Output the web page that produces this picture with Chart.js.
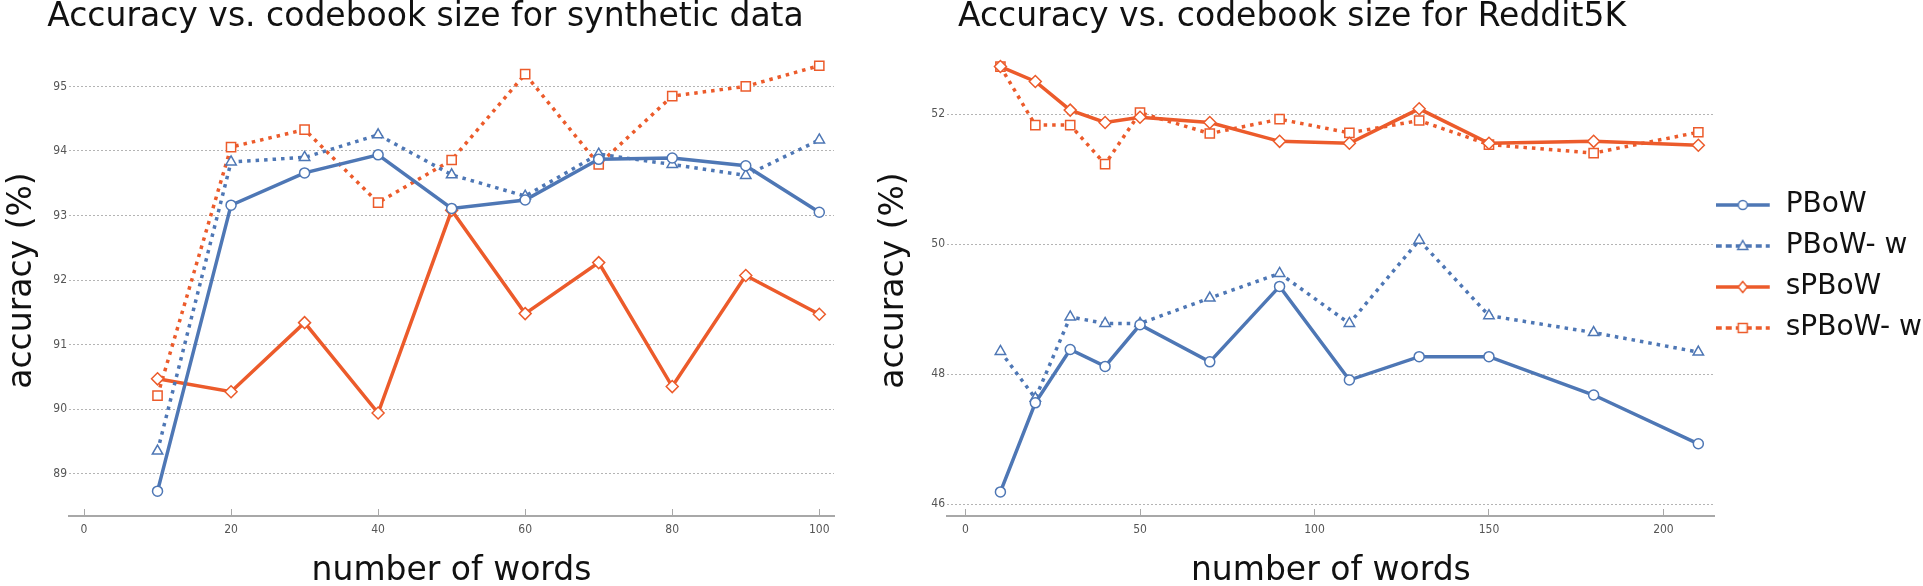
<!DOCTYPE html>
<html>
<head>
<meta charset="utf-8">
<script src="https://cdn.jsdelivr.net/npm/chart.js@4.4.1/dist/chart.umd.min.js"></script>
<style>
  html, body { margin: 0; padding: 0; background: #ffffff; overflow: hidden; }
  body { width: 1923px; height: 586px; position: relative; }
  canvas { position: absolute; top: 0; }
  #synthChart { left: 0; }
  #redditChart { left: 872px; }
</style>
</head>
<body>
<canvas id="synthChart" width="851" height="586"></canvas>
<canvas id="redditChart" width="1060" height="586"></canvas>
<script>
// Accuracy vs. codebook size: two line charts side by side (synthetic data / Reddit5K)

const SERIES_NAMES = ["PBoW", "PBoW- w", "sPBoW", "sPBoW- w"];

const synthWords = [10, 20, 30, 40, 50, 60, 70, 80, 90, 100];
const synthPBoW = [88.73, 93.16, 93.66, 93.94, 93.11, 93.24, 93.87, 93.89, 93.77, 93.05];
const synthPBoWw = [89.35, 93.83, 93.90, 94.25, 93.63, 93.30, 93.95, 93.79, 93.62, 94.17];
const synthSPBoW = [90.47, 90.27, 91.34, 89.94, 93.08, 91.48, 92.27, 90.35, 92.07, 91.47];
const synthSPBoWw = [90.21, 94.06, 94.33, 93.20, 93.86, 95.19, 93.79, 94.85, 95.00, 95.32];

const redditWords = [10, 20, 30, 40, 50, 70, 90, 110, 130, 150, 180, 210];
const redditPBoW = [46.19, 47.56, 48.38, 48.12, 48.76, 48.19, 49.35, 47.91, 48.27, 48.27, 47.68, 46.93];
const redditPBoWw = [48.35, 47.63, 48.88, 48.78, 48.78, 49.17, 49.55, 48.78, 50.06, 48.90, 48.64, 48.34];
const redditSPBoW = [52.73, 52.50, 52.06, 51.87, 51.95, 51.87, 51.58, 51.55, 52.08, 51.55, 51.58, 51.52];
const redditSPBoWw = [52.73, 51.83, 51.83, 51.23, 52.02, 51.70, 51.92, 51.71, 51.90, 51.53, 51.40, 51.72];

const synthXTicks = [0, 20, 40, 60, 80, 100];
const synthYTicks = [89, 90, 91, 92, 93, 94, 95];
const redditXTicks = [0, 50, 100, 150, 200];
const redditYTicks = [46, 48, 50, 52];

const BLUE = "#4E77B5";
const ORANGE = "#EC5B2B";
const GRID_COLOR = "#b4b4b4";
const AXIS_COLOR = "#a8a8a8";
const TEXT_COLOR = "#111111";
const TICK_COLOR = "#555555";
const MAIN_FONT = "'DejaVu Sans', Verdana, sans-serif";
const TICK_FONT = "'DejaVu Sans Condensed', 'DejaVu Sans', sans-serif";

// same order as SERIES_NAMES
const SERIES_STYLES = [
    { color: BLUE, dash: [], pointStyle: "circle", radius: 5 },
    { color: BLUE, dash: [3.5, 5], pointStyle: "triangle", radius: 6 },
    { color: ORANGE, dash: [], pointStyle: "rectRot", radius: 6 },
    { color: ORANGE, dash: [3.5, 5], pointStyle: "rect", radius: 6.5 }
];

// the titles are not centred on the plot area, so move the title box to a given centre
const titleCenterPlugin = {
    id: "titleCenter",
    afterLayout(chart, args, opts) {
        const block = chart.titleBlock;
        if (!block || opts.x == null) return;
        const half = (block.right - block.left) / 2;
        block.left = opts.x - half;
        block.right = opts.x + half;
    }
};

// small legend icon: line sample with the marker in the middle (right part left empty)
function makeLegendSample(style) {
    const c = document.createElement("canvas");
    c.width = 68;
    c.height = 16;
    const ctx = c.getContext("2d");
    const cx = 27, cy = 8, r = 4.5;
    ctx.strokeStyle = style.color;
    ctx.lineWidth = 3.5;
    ctx.setLineDash(style.dash.length ? [6, 4] : []);
    ctx.beginPath();
    ctx.moveTo(0, cy);
    ctx.lineTo(54, cy);
    ctx.stroke();

    ctx.setLineDash([]);
    ctx.lineWidth = 1.5;
    ctx.fillStyle = "#ffffff";
    ctx.beginPath();
    if (style.pointStyle === "circle") {
        ctx.arc(cx, cy, r, 0, Math.PI * 2);
    } else if (style.pointStyle === "triangle") {
        ctx.moveTo(cx, cy - r - 1);
        ctx.lineTo(cx + r + 0.5, cy + r - 1);
        ctx.lineTo(cx - r - 0.5, cy + r - 1);
        ctx.closePath();
    } else if (style.pointStyle === "rectRot") {
        ctx.moveTo(cx, cy - r - 1);
        ctx.lineTo(cx + r, cy);
        ctx.lineTo(cx, cy + r + 1);
        ctx.lineTo(cx - r, cy);
        ctx.closePath();
    } else {
        ctx.rect(cx - r, cy - r, r * 2, r * 2);
    }
    ctx.fill();
    ctx.stroke();
    return c;
}

function buildDatasets(words, seriesValues) {
    return seriesValues.map((values, index) => {
        const style = SERIES_STYLES[index];
        return {
            label: SERIES_NAMES[index],
            data: words.map((x, i) => ({ x: x, y: values[i] })),
            borderColor: style.color,
            backgroundColor: style.color,
            borderWidth: 3.5,
            borderDash: style.dash,
            tension: 0,
            pointStyle: style.pointStyle,
            pointRadius: style.radius,
            pointBorderWidth: 1.5,
            pointBorderColor: style.color,
            pointBackgroundColor: "#ffffff"
        };
    });
}

function makeAccuracyChart(canvasId, cfg) {
    const ctx = document.getElementById(canvasId);
    return new Chart(ctx, {
        type: "line",
        data: { datasets: buildDatasets(cfg.words, cfg.series) },
        plugins: [titleCenterPlugin],
        options: {
            responsive: false,
            animation: false,
            events: [],
            layout: { padding: { left: 0, right: cfg.padRight, top: 0, bottom: 0 } },
            plugins: {
                titleCenter: { x: cfg.titleX },
                title: {
                    display: true,
                    text: cfg.title,
                    color: TEXT_COLOR,
                    font: { family: MAIN_FONT, size: 33, weight: "normal", lineHeight: 1.0 },
                    padding: { top: 1, bottom: 11 }
                },
                tooltip: { enabled: false },
                legend: cfg.legend ? {
                    display: true,
                    position: "right",
                    align: "start",
                    // blank legend title only pushes the rows down to where the reference has them
                    title: {
                        display: true,
                        text: " ",
                        font: { size: 10, lineHeight: 1 },
                        padding: { top: 168, bottom: 0 }
                    },
                    labels: {
                        usePointStyle: true,
                        pointStyleWidth: 44,
                        padding: 13,
                        color: TEXT_COLOR,
                        font: { family: MAIN_FONT, size: 28 },
                        generateLabels: (chart) => {
                            const items = Chart.defaults.plugins.legend.labels.generateLabels(chart);
                            return items.map((item, i) => ({ ...item, pointStyle: makeLegendSample(SERIES_STYLES[i]) }));
                        }
                    }
                } : { display: false }
            },
            scales: {
                x: {
                    type: "linear",
                    min: cfg.xMin,
                    max: cfg.xMax,
                    afterBuildTicks: (axis) => { axis.ticks = cfg.xTicks.map((v) => ({ value: v })); },
                    afterFit: (axis) => { axis.height = 70; },
                    border: { display: true, color: AXIS_COLOR, width: 2 },
                    grid: { drawOnChartArea: false, drawTicks: true, tickLength: -7, color: AXIS_COLOR, lineWidth: 1 },
                    ticks: {
                        autoSkip: false,
                        maxRotation: 0,
                        padding: 14,
                        color: TICK_COLOR,
                        font: { family: TICK_FONT, size: 12 },
                        callback: (value) => String(value)
                    },
                    title: {
                        display: true,
                        text: "number of words",
                        color: TEXT_COLOR,
                        font: { family: MAIN_FONT, size: 33, lineHeight: 0.8 },
                        padding: { top: 0, bottom: 1 }
                    }
                },
                y: {
                    min: cfg.yMin,
                    max: cfg.yMax,
                    afterBuildTicks: (axis) => { axis.ticks = cfg.yTicks.map((v) => ({ value: v })); },
                    afterFit: (axis) => { axis.width = cfg.yAxisWidth; },
                    border: { display: false, dash: [2, 2] },
                    grid: { drawTicks: false, color: GRID_COLOR, lineWidth: 1 },
                    ticks: {
                        padding: 2,
                        color: TICK_COLOR,
                        font: { family: TICK_FONT, size: 12 },
                        callback: (value) => String(value)
                    },
                    title: {
                        display: true,
                        text: "accuracy (%)",
                        color: TEXT_COLOR,
                        font: { family: MAIN_FONT, size: 33, lineHeight: 0.8 },
                        padding: { top: 9, bottom: 0 }
                    }
                }
            }
        }
    });
}

makeAccuracyChart("synthChart", {
    title: "Accuracy vs. codebook size for synthetic data",
    titleX: 425.5,
    words: synthWords,
    series: [synthPBoW, synthPBoWw, synthSPBoW, synthSPBoWw],
    xMin: -2.04, xMax: 102.0, xTicks: synthXTicks,
    yMin: 88.345, yMax: 95.641, yTicks: synthYTicks,
    yAxisWidth: 69,
    padRight: 17,
    legend: false
});

makeAccuracyChart("redditChart", {
    title: "Accuracy vs. codebook size for Reddit5K",
    titleX: 1292 - 872,
    words: redditWords,
    series: [redditPBoW, redditPBoWw, redditSPBoW, redditSPBoWw],
    xMin: -5.31, xMax: 214.7, xTicks: redditXTicks,
    yMin: 45.82, yMax: 53.061, yTicks: redditYTicks,
    yAxisWidth: 75,
    padRight: 0,
    legend: true
});
</script>
</body>
</html>
